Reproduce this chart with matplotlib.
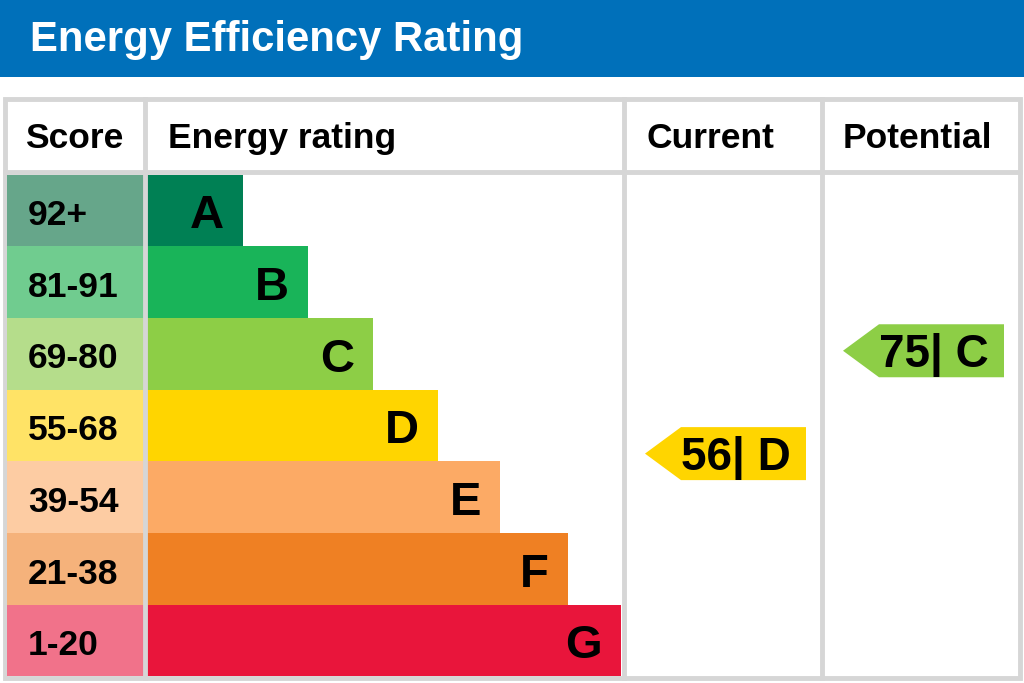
import matplotlib.pyplot as plt
from matplotlib.patches import Polygon, Rectangle

plt.rcParams['font.family'] = ['Liberation Sans', 'DejaVu Sans']

# data
bands = ["A", "B", "C", "D", "E", "F", "G"]
score_labels = ["92+", "81-91", "69-80", "55-68", "39-54", "21-38", "1-20"]
band_low = [92, 81, 69, 55, 39, 21, 1]
band_high = [100, 91, 80, 68, 54, 38, 20]
bar_colours = ["#008054", "#19b459", "#8dce46", "#ffd500", "#fcaa65", "#ef8023", "#e9153b"]
score_colours = ["#66a68a", "#70cc8f", "#b5dd8b", "#ffe366", "#fdcca3", "#f5b27b", "#f1728a"]
current_score = 56
potential_score = 75

# layout (pixels)
W, H = 1024, 683
row_top = 174.5
row_h = 71.7
bar_left = 147
bar_right = [243, 308, 373, 438, 500, 568, 621]
grey = "#d6d6d6"

fig = plt.figure(figsize=(W / 100, H / 100), dpi=100)
ax = fig.add_axes([0, 0, 1, 1])
ax.set_xlim(0, W)
ax.set_ylim(H, 0)
ax.axis("off")


def label(x, yc, s, size, ha="left", color="black"):
    # put the cap height centred on yc
    cap = 0.716 * size * 100 / 72
    ax.text(x, yc + cap / 2, s, fontsize=size, fontweight="bold", color=color,
            ha=ha, va="baseline")


# header
ax.add_patch(Rectangle((0, 0), W, 77, color="#0070ba", lw=0))
label(30, 35.5, "Energy Efficiency Rating", 30.2, color="white")

# table frame
ax.add_patch(Rectangle((5, 99), 1015, 579, fill=False, ec=grey, lw=3.5))
ax.plot([5, 1020], [172, 172], color=grey, lw=3.5)
for x in [145, 624, 822]:
    ax.plot([x, x], [99, 678], color=grey, lw=3.5)

label(25, 135, "Score", 25.5)
label(168, 135, "Energy rating", 25.5)
label(646, 135, "Current", 25.5)
label(843, 135, "Potential", 25.5)

# bands
ys = [row_top + (i + 0.5) * row_h for i in range(len(bands))]
widths = [r - bar_left for r in bar_right]
ax.barh(ys, [bar_left - 7] * len(bands), left=7, height=row_h, color=score_colours, lw=0)
ax.barh(ys, widths, left=bar_left, height=row_h, color=bar_colours, lw=0)
for y, lab, band, r in zip(ys, score_labels, bands, bar_right):
    label(28, y + 2, lab, 25.5)
    label(r - 19, y + 1, band, 34, ha="right")


def score_y(s):
    for i in range(len(bands)):
        if band_low[i] <= s <= band_high[i]:
            frac = (band_high[i] + 0.5 - s) / (band_high[i] - band_low[i] + 1)
            return row_top + (i + frac) * row_h, i
    return ys[-1], len(bands) - 1


def arrow(s, x_tip, x_right):
    y, i = score_y(s)
    hh = 26.5
    body = x_tip + 36
    pts = [(x_tip, y), (body, y - hh), (x_right, y - hh), (x_right, y + hh), (body, y + hh)]
    ax.add_patch(Polygon(pts, closed=True, color=bar_colours[i], lw=0))
    label(body, y, f"{s}| {bands[i]}", 33)


arrow(current_score, 645, 806)
arrow(potential_score, 843, 1004)

fig.savefig("out.png", dpi=100)
